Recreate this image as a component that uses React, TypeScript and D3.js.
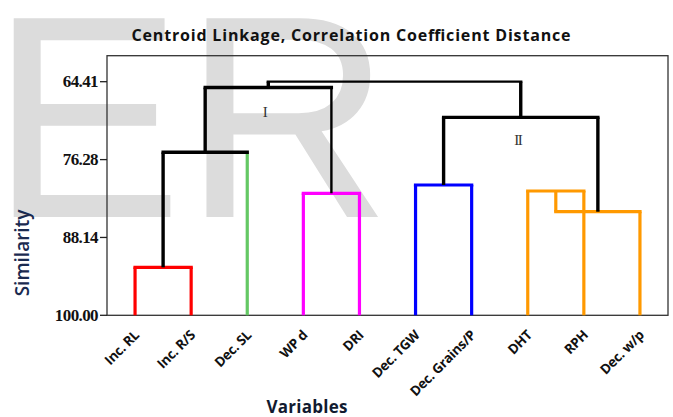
import React from "react";
import * as d3 from "d3";

// Variables (leaves) in dendrogram order
const leaves = [
  "Inc. RL",
  "Inc. R/S",
  "Dec. SL",
  "WP d",
  "DRI",
  "Dec. TGW",
  "Dec. Grains/P",
  "DHT",
  "RPH",
  "Dec. w/p",
];

// Final cluster group of each leaf
const leafGroup = [1, 1, 2, 3, 3, 4, 4, 5, 5, 5];

// Merge steps: [childA, childB, similarity]; new nodes are numbered from leaves.length
const mergeA = [0, 10, 3, 11, 5, 7, 15, 14, 13];
const mergeB = [1, 2, 4, 12, 6, 8, 9, 16, 17];
const mergeSimilarity = [92.69, 75.17, 81.41, 65.3, 80.15, 81.06, 84.22, 69.84, 64.41];

// Similarity axis ticks
const yTicks = [64.41, 76.28, 88.14, 100.0];

// Cluster annotations: [label, node]
const clusterLabels: [string, number][] = [
  ["I", 13],
  ["II", 17],
];

const groupColor: Record<number, string> = {
  1: "#ff0000",
  2: "#64c864",
  3: "#ff00ff",
  4: "#0000ff",
  5: "#ff9900",
};

const W = 673;
const H = 417;
const M = { left: 107, right: 668, top: 55.7, bottom: 315.3 };

export default function App() {
  const x = d3
    .scaleBand<number>()
    .domain(d3.range(leaves.length))
    .range([M.left, M.right]);
  const y = d3.scaleLinear().domain([100, 60.45]).range([M.bottom, M.top]);

  // node positions and groups
  const nx: number[] = leaves.map((_, i) => x(i)! + x.bandwidth() / 2);
  const ny: number[] = leaves.map(() => y(100));
  const ng: (number | null)[] = [...leafGroup];
  mergeA.forEach((a, k) => {
    const b = mergeB[k];
    nx.push((nx[a] + nx[b]) / 2);
    ny.push(y(mergeSimilarity[k]));
    ng.push(ng[a] !== null && ng[a] === ng[b] ? ng[a] : null);
  });

  const colorOf = (g: number | null) => (g === null ? "#000" : groupColor[g]);
  const root = leaves.length + mergeA.length - 1;

  const segs: { x1: number; y1: number; x2: number; y2: number; c: string; w: number }[] = [];
  mergeA.forEach((a, k) => {
    const b = mergeB[k];
    const node = leaves.length + k;
    const my = y(mergeSimilarity[k]);
    const mc = colorOf(ng[node]);
    const baseW = ng[node] === null ? 3.4 : 3.2;
    [a, b].forEach((ch) => {
      const c = ch < leaves.length ? colorOf(leafGroup[ch]) : mc;
      const w = ch === 12 ? 2.4 : ch < leaves.length ? 3.2 : baseW;
      segs.push({ x1: nx[ch], y1: ny[ch], x2: nx[ch], y2: my, c, w });
    });
    const hw = node === root ? 2.3 : baseW;
    const half = Math.max(...[a, b].map((ch) => (ch === 12 ? 2.4 : 3.3))) / 2;
    segs.push({
      x1: Math.min(nx[a], nx[b]) - half,
      y1: my,
      x2: Math.max(nx[a], nx[b]) + half,
      y2: my,
      c: mc,
      w: hw,
    });
  });

  return (
    <svg
      width={W}
      height={H}
      style={{ position: "absolute", left: 0, top: 0, background: "#fff" }}
    >
      {/* background mark */}
      <text
        x={-10}
        y={217}
        fontFamily="Liberation Sans, Arial, sans-serif"
        fontSize={289}
        fill="#dcdcdc"
      >
        ER
      </text>

      <text
        x={351}
        y={40.7}
        textAnchor="middle"
        fontFamily="Open Sans, sans-serif"
        fontWeight={700}
        fontSize={16}
        fill="#111"
        textLength={439}
        lengthAdjust="spacing"
      >
        Centroid Linkage, Correlation Coefficient Distance
      </text>

      <rect
        x={M.left}
        y={M.top}
        width={M.right - M.left}
        height={M.bottom - M.top}
        fill="none"
        stroke="#333"
        strokeWidth={1.3}
      />

      {yTicks.map((t) => (
        <g key={t}>
          <line x1={M.left - 7} x2={M.left} y1={y(t)} y2={y(t)} stroke="#222" strokeWidth={1.3} />
          <text
            x={M.left - 9}
            y={y(t)}
            dy="0.34em"
            textAnchor="end"
            fontFamily="Liberation Serif, Times New Roman, serif"
            fontWeight={700}
            fontSize={17}
            letterSpacing={-0.6}
            fill="#111"
          >
            {t.toFixed(2)}
          </text>
        </g>
      ))}

      {segs.map((s, i) => (
        <line
          key={i}
          x1={s.x1}
          y1={s.y1}
          x2={s.x2}
          y2={s.y2}
          stroke={s.c}
          strokeWidth={s.w}
        />
      ))}

      {clusterLabels.map(([lab, node]) => (
        <text
          key={lab}
          x={nx[node] - 3}
          y={lab === "I" ? 116.5 : 145}
          textAnchor="middle"
          fontFamily="Liberation Serif, Times New Roman, serif"
          fontSize={15}
          letterSpacing={lab === "II" ? -1.5 : 0}
          fill="#333"
        >
          {lab}
        </text>
      ))}

      {leaves.map((l, i) => (
        <text
          key={l}
          transform={`translate(${nx[i] + 5},${336}) rotate(-45)`}
          textAnchor="end"
          fontFamily="Open Sans, sans-serif"
          fontWeight={700}
          fontSize={13.5}
          letterSpacing={-0.3}
          fill="#111"
        >
          {l}
        </text>
      ))}

      <text
        transform="translate(29,253) rotate(-90)"
        textAnchor="middle"
        fontFamily="Open Sans, sans-serif"
        fontWeight={600}
        fontSize={19}
        fill="#1a2a50"
      >
        Similarity
      </text>

      <text
        x={307}
        y={413.3}
        textAnchor="middle"
        fontFamily="Open Sans, sans-serif"
        fontWeight={700}
        fontSize={17}
        fill="#111a30"
        textLength={81}
        lengthAdjust="spacing"
      >
        Variables
      </text>
    </svg>
  );
}
